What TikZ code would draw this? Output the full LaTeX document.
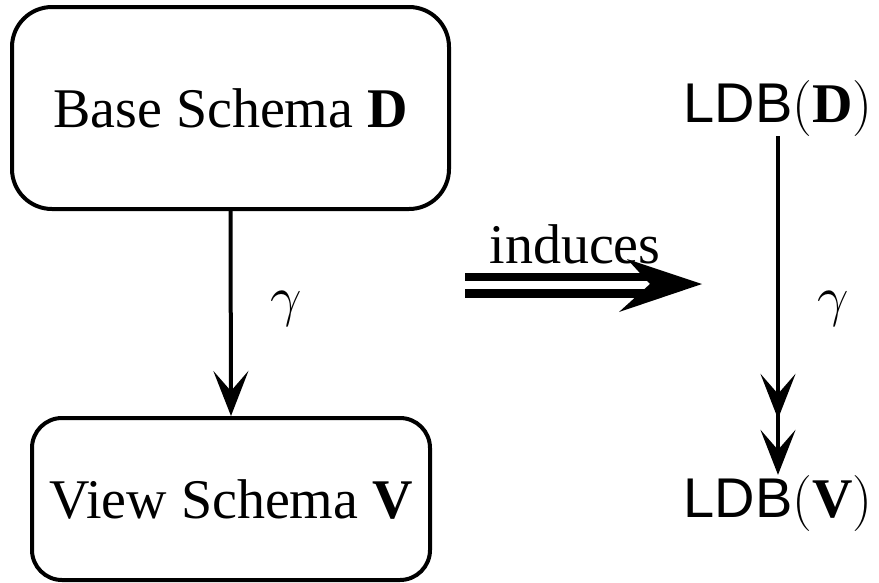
\documentclass[tikz,border=0pt]{standalone}
\usepackage{fix-cm}
\usepackage{fontspec}
\setmainfont{Liberation Serif}
\setsansfont{Liberation Sans}
\usetikzlibrary{arrows.meta}
\begin{document}
\begin{tikzpicture}[x=1pt,y=-1pt,
  every node/.style={font=\fontsize{56}{60}\selectfont, inner sep=0pt},
  schemabox/.style={draw, line width=4pt, rounded corners=#1},
  conn/.style={line width=4pt}]
\useasboundingbox (0,0) rectangle (879,582);
\node[schemabox=40pt, minimum width=437pt, minimum height=202pt] (base) at (230.5,108) {Base Schema \textbf{D}};
\node[schemabox=30pt, minimum width=398pt, minimum height=162pt] (view) at (231,499) {View Schema \textbf{V}};
\node[anchor=base] (ldbD) at (778,122) {{\sffamily LDB}$(\mathbf{D})$};
\node[anchor=base] (ldbV) at (778,517) {{\sffamily LDB}$(\mathbf{V})$};
\node (g1) at (286,309) {$\gamma$};
\node (g2) at (833,309) {$\gamma$};
\node[anchor=base] (ind) at (575,263) {induces};
\draw[conn, -{Stealth[length=45pt,width=35pt,inset=20pt]}] (base.south) -- (view.north);
\draw[conn, -{Stealth[length=45pt,width=35pt,inset=20pt,sep=11pt] Stealth[length=45pt,width=35pt,inset=20pt]}] (ldbD.south) -- (ldbV.north);
\coordinate (is) at (465,285);
\coordinate (ie) at (648,285);
\coordinate (it) at (702,284);
\draw[line width=8.5pt, double, double distance=8pt] (is) -- (ie);
\fill (it) -- (627,259) -- (650,284) -- (619,312) -- cycle;
\end{tikzpicture}
\end{document}
